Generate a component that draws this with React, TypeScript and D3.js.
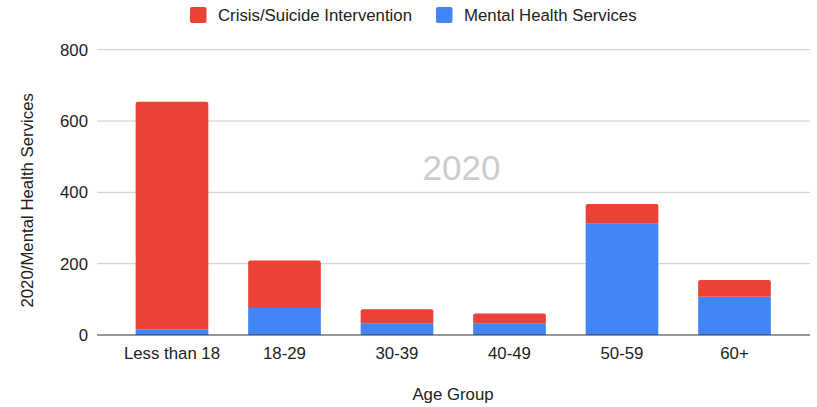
import React from "react";
import * as d3 from "d3";

const ageGroups = ["Less than 18", "18-29", "30-39", "40-49", "50-59", "60+"];
const mentalHealth = [16, 76, 33, 33, 313, 107];
const crisisSuicide = [638, 133, 39, 27, 54, 47];
const yTicks = [0, 200, 400, 600, 800];

const seriesKeys = ["mental", "crisis"];
const seriesNames: Record<string, string> = {
  crisis: "Crisis/Suicide Intervention",
  mental: "Mental Health Services",
};
const colors: Record<string, string> = { crisis: "#EA4335", mental: "#4285F4" };

const W = 817;
const H = 407;
const plotLeft = 97;
const plotRight = 810;
const plotTop = 49.7;
const plotBottom = 335;
const FONT = "Arial, 'Liberation Sans', Helvetica, sans-serif";
const FS = 16.8;

export default function App() {
  const rows = ageGroups.map((g, i) => ({ group: g, mental: mentalHealth[i], crisis: crisisSuicide[i] }));
  const stacked = d3.stack<any>().keys(seriesKeys)(rows);

  const x = d3.scaleBand<string>().domain(ageGroups).range([115.75, 790.75]).paddingInner(0.354).paddingOuter(0.177);
  const y = d3.scaleLinear().domain([0, 800]).range([plotBottom, plotTop]);

  const legendItems = [
    { key: "crisis", x: 190, tx: 218 },
    { key: "mental", x: 436, tx: 464 },
  ];

  return (
    <svg width={W} height={H} style={{ position: "absolute", left: 0, top: 0 }} fontFamily={FONT}>
      <rect width={W} height={H} fill="#fff" />
      {/* gridlines and value ticks */}
      {yTicks.map((t) => (
        <g key={t}>
          {t !== 0 && (
            <line x1={plotLeft} x2={plotRight} y1={y(t)} y2={y(t)} stroke="#cccccc" strokeWidth={1} />
          )}
          <text x={88} y={y(t)} dy="0.35em" textAnchor="end" fontSize={FS} fill="#222">
            {t}
          </text>
        </g>
      ))}
      {/* watermark title */}
      <text x={461.5} y={179.5} textAnchor="middle" fontSize={35} fill="#cccccc">
        2020
      </text>
      {/* stacked bars */}
      {stacked.map((layer) => (
        <g key={layer.key} fill={colors[layer.key]}>
          {layer.map((d, i) => {
            const isTop = layer.key === "crisis";
            const x0 = x(ageGroups[i])!;
            const bw = x.bandwidth();
            const yTop = y(d[1]);
            const yBot = y(d[0]);
            if (isTop) {
              const r = 2;
              const path = `M${x0},${yBot} L${x0},${yTop + r} Q${x0},${yTop} ${x0 + r},${yTop} L${x0 + bw - r},${yTop} Q${x0 + bw},${yTop} ${x0 + bw},${yTop + r} L${x0 + bw},${yBot} Z`;
              return <path key={i} d={path} />;
            }
            return <rect key={i} x={x0} y={yTop} width={bw} height={yBot - yTop} />;
          })}
        </g>
      ))}
      {/* baseline */}
      <line x1={plotLeft} x2={plotRight} y1={plotBottom} y2={plotBottom} stroke="#333" strokeWidth={1.2} />
      {/* category labels */}
      {ageGroups.map((g) => (
        <text key={g} x={x(g)! + x.bandwidth() / 2} y={358.5} textAnchor="middle" fontSize={FS} fill="#222">
          {g}
        </text>
      ))}
      <text x={453} y={400} textAnchor="middle" fontSize={FS} fill="#222">
        Age Group
      </text>
      <text
        transform={`translate(33,${(plotTop + plotBottom) / 2 + 8}) rotate(-90)`}
        textAnchor="middle"
        fontSize={FS}
        fill="#222"
      >
        2020/Mental Health Services
      </text>
      {/* legend */}
      {legendItems.map((it) => (
        <g key={it.key}>
          <rect x={it.x} y={7} width={16.5} height={16} rx={2} fill={colors[it.key]} />
          <text x={it.tx} y={15} dy="0.35em" fontSize={FS} fill="#222">
            {seriesNames[it.key]}
          </text>
        </g>
      ))}
    </svg>
  );
}
